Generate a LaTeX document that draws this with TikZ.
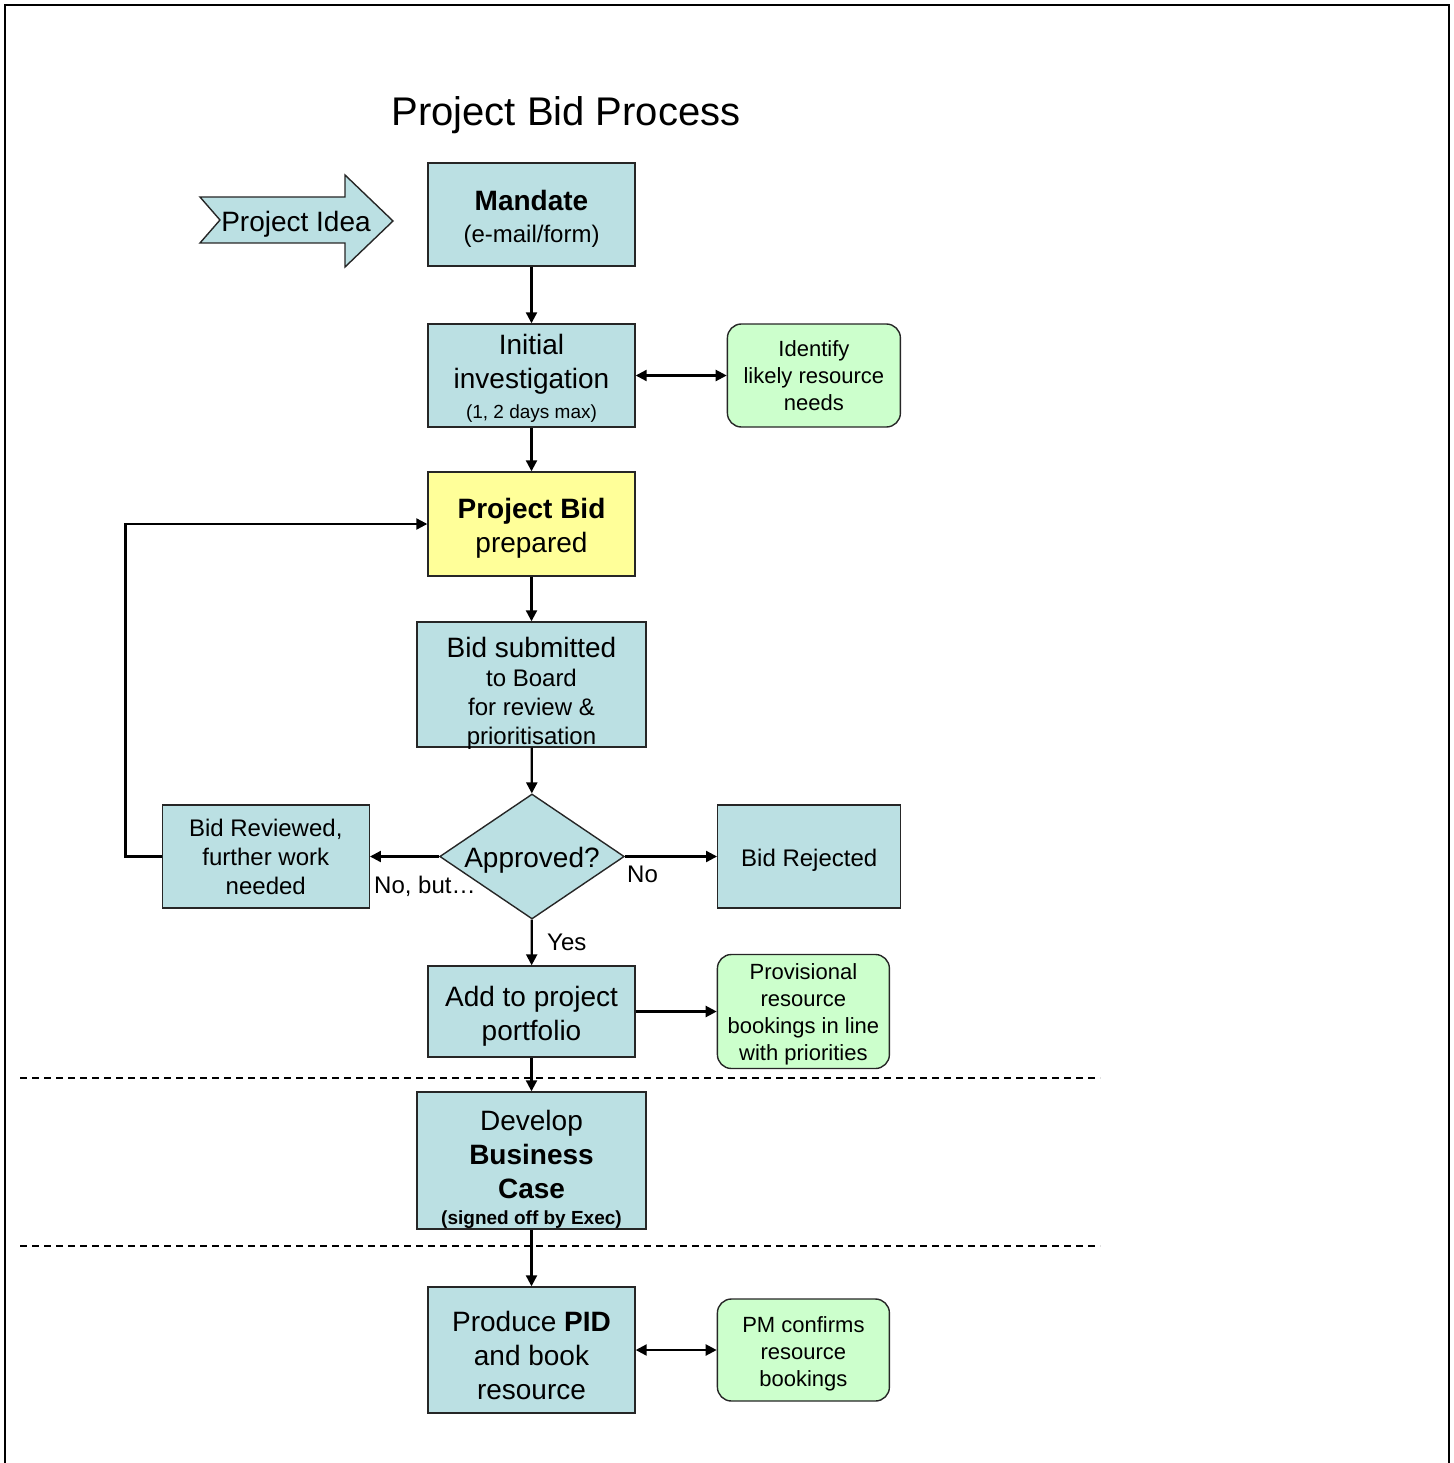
\documentclass[tikz,border=0pt]{standalone}
\usepackage{fontspec}
\setmainfont{Liberation Sans}
\usetikzlibrary{positioning,shapes.geometric,arrows.meta}
\definecolor{bidblue}{RGB}{187,224,227}
\definecolor{notegreen}{RGB}{204,255,204}
\definecolor{bidyellow}{RGB}{255,255,153}

\begin{document}
\begin{tikzpicture}[x=1pt,y=-1pt,
box/.style={draw=black!85,line width=1.4pt,fill=bidblue,align=center,inner sep=1pt,
    font=\fontsize{28}{34}\selectfont},
note/.style={draw=black!85,line width=1.4pt,fill=notegreen,rounded corners=14pt,align=center,
    inner sep=1pt,font=\fontsize{22}{27}\selectfont},
lbl/.style={font=\fontsize{24}{28}\selectfont,inner sep=0pt},
conn/.style={line width=2.2pt,-{Triangle[length=11pt,width=11pt]}},
both/.style={line width=2.2pt,{Triangle[length=11pt,width=11pt]}-{Triangle[length=11pt,width=11pt]}}]
\useasboundingbox (0,0) rectangle (1453,1463);
\draw[line width=2.5pt] (5,1463) -- (5,5) -- (1449,5) -- (1449,1463);
\node (title) at (566,111) [font=\fontsize{40}{48}\selectfont] {\rule{0pt}{37pt}Project Bid Process};

\draw[line width=1.4pt,draw=black!85,fill=bidblue] (200,197) -- (345,197) -- (345,175) -- (393,221)
    -- (345,267) -- (345,243) -- (200,243) -- (220,220) -- cycle;
\node (idea) at (296,221) [font=\fontsize{28}{34}\selectfont,inner sep=0pt] {\rule{0pt}{26.5pt}Project Idea};

\node (mandate) [box,minimum width=207pt,minimum height=103pt] at (531.5,214.5)
    {\rule{0pt}{28.5pt}\textbf{Mandate}\\[-2pt]{\fontsize{24}{28}\selectfont (e-mail/form)}};
\node (initinv) [box,minimum width=207pt,minimum height=103pt] at (531.5,375.5)
    {\rule{0pt}{26.5pt}Initial\\investigation\\[-4pt]{\fontsize{19}{22}\selectfont (1, 2 days max)}};
\node (ident) [note,minimum width=173pt,minimum height=103pt,right=91pt of initinv]
    {Identify\\likely resource\\needs};
\node (bidprep) [box,fill=bidyellow,minimum width=207pt,minimum height=104pt] at (531.5,524)
    {\rule{0pt}{29.5pt}\textbf{Project Bid}\\prepared};
\node (bidsub) [box,minimum width=229pt,minimum height=125pt,text depth=0pt,
    font=\fontsize{24}{29}\selectfont] at (531.5,684.5)
    {{\fontsize{28}{34}\selectfont\rule{0pt}{33.5pt}Bid submitted}\\to Board\\for review \&\\prioritisation};
\node (approved) [diamond,draw=black!85,line width=1.4pt,fill=bidblue,aspect=1.5,inner sep=0pt,
    minimum width=184pt,minimum height=125pt,font=\fontsize{28}{34}\selectfont] at (532,856.5)
    {\rule{0pt}{27pt}Approved?};
\node (bidrev) [box,minimum width=207pt,minimum height=103pt,font=\fontsize{24}{29}\selectfont,
    left=69pt of approved] {Bid Reviewed,\\further work\\needed};
\node (bidrej) [box,minimum width=183pt,minimum height=103pt,font=\fontsize{24}{29}\selectfont,
    right=92pt of approved] {\rule{0pt}{25.5pt}Bid Rejected};
\node (nobut) [lbl,anchor=west] at (374,886) {No, but…};
\node (no) [lbl,anchor=west] at (627,874) {No};
\node (yes) [lbl,anchor=west] at (547,942) {Yes};
\node (addport) [box,minimum width=207pt,minimum height=91pt] at (531.5,1011.5)
    {\rule{0pt}{29.5pt}Add to project\\portfolio};
\node (provis) [note,minimum width=172pt,minimum height=114pt,right=81pt of addport]
    {\rule{0pt}{22pt}Provisional\\resource\\bookings in line\\with priorities};
\node (develop) [box,minimum width=229pt,minimum height=137pt,text depth=0pt] at (531.5,1160.5)
    {\rule{0pt}{33pt}Develop\\\textbf{Business}\\\textbf{Case}\\[-8pt]{\fontsize{19}{22}\selectfont\bfseries (signed off by Exec)}};
\node (produce) [box,minimum width=207pt,minimum height=126pt] at (531.5,1350)
    {\rule{0pt}{30.5pt}Produce \textbf{PID}\\and book\\resource};
\node (pmconf) [note,minimum width=172pt,minimum height=102pt,right=81pt of produce]
    {\rule{0pt}{23pt}PM confirms\\resource\\bookings};

\draw[line width=1.5pt,dash pattern=on 7pt off 5pt] (20,1078) -- (1100,1078);
\draw[line width=1.5pt,dash pattern=on 7pt off 5pt] (20,1246) -- (1100,1246);

\draw[conn] (mandate) -- (initinv);
\draw[both] (initinv) -- (ident);
\draw[conn] (initinv) -- (bidprep);
\draw[conn] (bidprep) -- (bidsub);
\draw[conn] (bidsub) -- (approved);
\draw[conn] (approved) -- (bidrev);
\draw[conn] (approved) -- (bidrej);
\draw[conn] (approved) -- (addport);
\draw[conn] (addport) -- (provis);
\draw[conn] (addport) -- (develop);
\draw[conn] (develop) -- (produce);
\draw[both] (produce) -- (pmconf);
\draw[conn] (bidrev.west) -- ++(-36,0) |- (bidprep.west);
\end{tikzpicture}
\end{document}
